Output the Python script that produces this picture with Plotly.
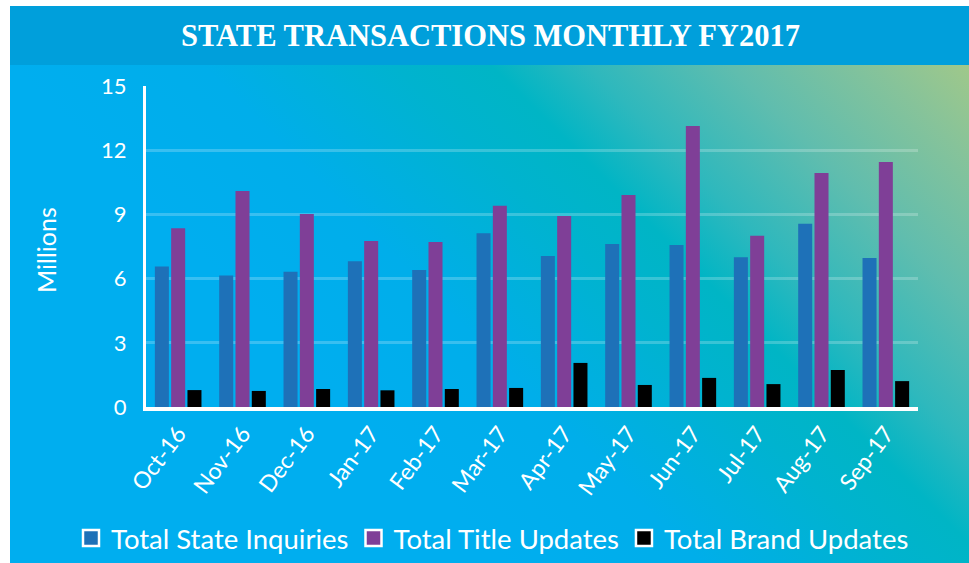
import base64
import plotly.graph_objects as go

months = ["Oct-16", "Nov-16", "Dec-16", "Jan-17", "Feb-17", "Mar-17",
          "Apr-17", "May-17", "Jun-17", "Jul-17", "Aug-17", "Sep-17"]
state_inquiries = [6.56, 6.15, 6.32, 6.81, 6.40, 8.12, 7.06, 7.62, 7.57, 7.00, 8.56, 6.96]
title_updates = [8.35, 10.09, 9.02, 7.76, 7.71, 9.41, 8.93, 9.91, 13.13, 8.00, 10.94, 11.45]
brand_updates = [0.79, 0.75, 0.84, 0.78, 0.84, 0.89, 2.06, 1.03, 1.36, 1.07, 1.73, 1.21]
series_names = ["Total State Inquiries", "Total Title Updates", "Total Brand Updates"]
series_colors = ["#1E71B8", "#7F3F97", "#000000"]
y_ticks = [0, 3, 6, 9, 12, 15]

W, H = 969, 563
L, R, T, B = 146, 51, 86, 156
pw, ph = W - L - R, H - T - B

def px_x(x):
    return (x - L) / pw

def px_y(y):
    return (H - B - y) / ph

FONT = "Lato"

fig = go.Figure()
for name, vals, col in zip(series_names, [state_inquiries, title_updates, brand_updates], series_colors):
    fig.add_trace(go.Bar(x=months, y=vals, name=name, marker=dict(color=col, line=dict(width=0)),
                         showlegend=False))
for name, col in zip(series_names, series_colors):
    fig.add_trace(go.Scatter(x=[None], y=[None], mode="markers", name=name,
                             marker=dict(symbol="square", size=22, color=col,
                                         line=dict(color="white", width=2.5))))

# gradient background as SVG
pan_w, pan_h = W - 10, H - 65
svg = f'''<svg xmlns="http://www.w3.org/2000/svg" width="{pan_w}" height="{pan_h}" viewBox="0 0 {pan_w} {pan_h}" preserveAspectRatio="none">
<defs><linearGradient id="g" gradientUnits="userSpaceOnUse" x1="0" y1="0" x2="480" y2="-480">
<stop offset="0" stop-color="#00AEEF"/>
<stop offset="0.2" stop-color="#00AEEA"/>
<stop offset="0.4" stop-color="#00B3CF"/>
<stop offset="0.5" stop-color="#00B5C5"/>
<stop offset="0.6" stop-color="#2EB8BD"/>
<stop offset="0.75" stop-color="#60BDAE"/>
<stop offset="0.9" stop-color="#86C39A"/>
<stop offset="1" stop-color="#A0C88A"/>
</linearGradient></defs>
<rect x="0" y="0" width="{pan_w}" height="{pan_h}" fill="url(#g)"/></svg>'''
src = "data:image/svg+xml;base64," + base64.b64encode(svg.encode()).decode()

fig.add_layout_image(dict(source=src, xref="paper", yref="paper",
                          x=px_x(10), y=px_y(65), sizex=px_x(W) - px_x(10), sizey=px_y(65) - px_y(H),
                          sizing="stretch", xanchor="left", yanchor="top", layer="below"))

fig.add_shape(type="rect", xref="paper", yref="paper", x0=px_x(10), x1=px_x(W + 5),
              y0=px_y(65), y1=px_y(6), fillcolor="#009FDB", line=dict(width=0), layer="below")

fig.add_annotation(text="STATE TRANSACTIONS MONTHLY FY2017", xref="paper", yref="paper",
                   x=px_x(490), y=px_y(36.5), xanchor="center", yanchor="middle", showarrow=False,
                   font=dict(family="Liberation Serif", size=30.5, color="white", weight="bold"))

fig.add_annotation(text="Millions", xref="paper", yref="paper", x=px_x(46), y=px_y(250),
                   xanchor="center", yanchor="middle", textangle=-90, showarrow=False,
                   font=dict(family=FONT, size=25, color="white"))

fig.update_layout(
    width=W, height=H, margin=dict(l=L, r=R, t=T, b=B, autoexpand=False),
    paper_bgcolor="white", plot_bgcolor="rgba(0,0,0,0)",
    barmode="group", bargap=0.24, bargroupgap=0.14,
    font=dict(family=FONT, color="white"),
    legend=dict(orientation="h", xref="paper", yref="paper",
                x=px_x(71), y=px_y(538), xanchor="left", yanchor="middle",
                font=dict(family=FONT, size=27.5, color="white"), bgcolor="rgba(0,0,0,0)",
                itemwidth=30, tracegroupgap=0),
)
fig.update_xaxes(showline=True, linecolor="white", linewidth=4, tickangle=-53,
                 tickfont=dict(family=FONT, size=23, color="white"), showgrid=False,
                 ticks="", fixedrange=True)
fig.update_yaxes(range=[0, 15], tickvals=y_ticks, showline=True, linecolor="white", linewidth=3,
                 showgrid=True, gridcolor="rgba(255,255,255,0.22)", gridwidth=3, zeroline=False,
                 tickfont=dict(family=FONT, size=22, color="white"), ticks="", ticklabelstandoff=12,
                 fixedrange=True)

fig.write_html("out.html", config={"displayModeBar": False},
               post_script="document.body.style.margin='0';")
